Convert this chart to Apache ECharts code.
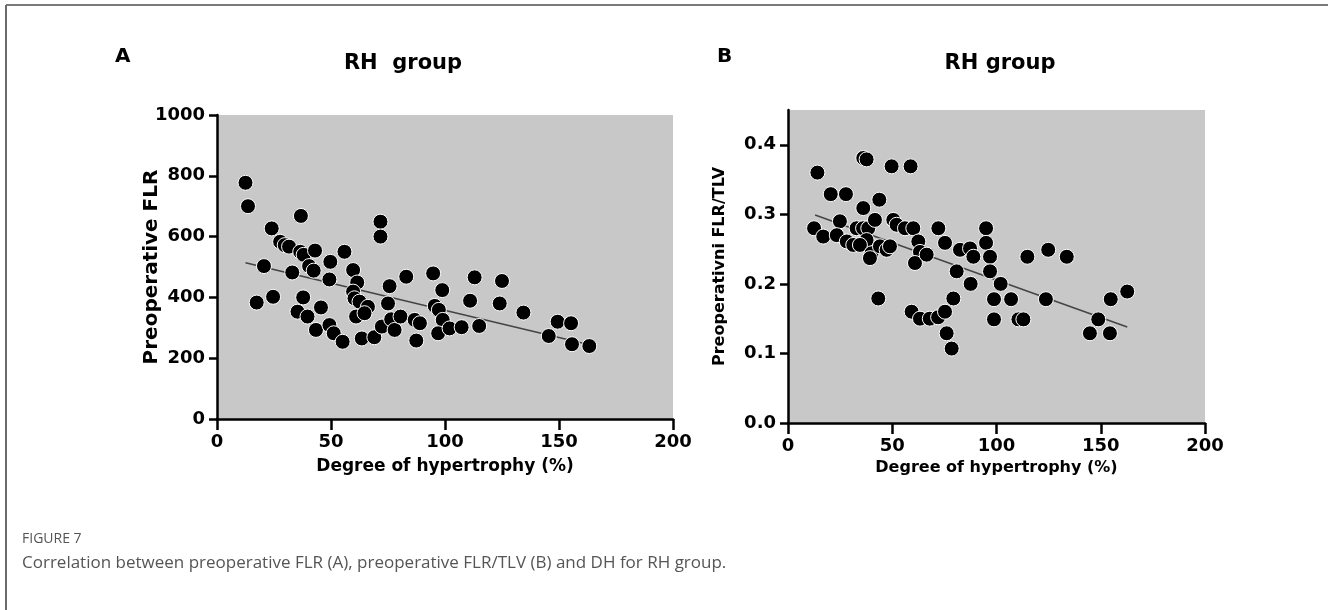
<!DOCTYPE html>
<html>
<head>
<meta charset="utf-8">
<script src="https://cdn.jsdelivr.net/npm/echarts@6/dist/echarts.min.js"></script>
<style>
  html, body { margin: 0; padding: 0; background: #fff; }
  #chart { width: 1328px; height: 610px; }
</style>
</head>
<body>
<div id="chart"></div>
<script>
// panel A: degree of hypertrophy (%) vs preoperative FLR
const dhA = [12.5, 13.6, 17.4, 20.6, 24.6, 24, 27.7, 29.7, 31.6, 33, 36.8, 36.5, 38, 37.8, 35.3, 39.7, 43, 40.4, 42.4, 43.4,
  45.6, 49.7, 49.3, 49.3, 51.2, 55.1, 55.9, 59.7, 61.5, 59.7, 60.3, 62.5, 61, 66.2, 64.7, 63.5, 69, 71.7, 71.7, 75.7,
  75, 72.3, 76.4, 77.9, 80.5, 83, 86.7, 87.4, 89, 94.8, 98.8, 95.5, 97.3, 99, 97, 102, 107.3, 113, 111, 115,
  125, 124, 134.4, 145.5, 149.4, 155.3, 155.7, 163.3];
const flrA = [777, 700, 383, 503, 402, 627, 583, 572, 567, 482, 668, 550, 540, 400, 353, 337, 554, 503, 488, 293,
  367, 517, 459, 309, 282, 254, 550, 490, 449, 419, 397, 386, 337, 369, 348, 265, 269, 649, 600, 437,
  380, 304, 328, 293, 337, 468, 326, 258, 315, 479, 424, 372, 359, 326, 282, 298, 302, 466, 389, 306,
  454, 380, 350, 273, 320, 315, 246, 240];
const fitAx = [12.5, 163.3];
const fitAy = [514, 244];

// panel B: degree of hypertrophy (%) vs preoperative FLR/TLV
const dhB = [12.5, 14.1, 16.9, 20.5, 27.8, 24.9, 23.4, 28.2, 31.3, 32.9, 36.1, 37.7, 36.1, 43.8, 36, 38.5, 41.7, 37.7, 34.5, 40.1,
  39.3, 44.1, 47.3, 43.3, 49.7, 58.8, 50.5, 52.1, 56.1, 60.1, 48.9, 62.5, 63.3, 60.9, 66.5, 59.3, 63.3, 68, 72, 75.3,
  76.1, 78.5, 72.1, 75.3, 79.3, 82.5, 87.3, 88.9, 80.9, 87.6, 95, 95, 96.9, 96.9, 102, 98.8, 107, 98.8, 110.5, 112.9,
  114.8, 124.8, 133.7, 123.7, 144.8, 148.8, 154.4, 154.8, 162.7];
const ratioB = [0.28, 0.36, 0.268, 0.329, 0.329, 0.29, 0.27, 0.261, 0.256, 0.28, 0.381, 0.379, 0.309, 0.321, 0.28, 0.28, 0.292, 0.263, 0.256, 0.244,
  0.237, 0.254, 0.249, 0.179, 0.369, 0.369, 0.292, 0.285, 0.28, 0.28, 0.254, 0.261, 0.246, 0.23, 0.242, 0.16, 0.15, 0.15, 0.152, 0.16,
  0.129, 0.107, 0.28, 0.259, 0.179, 0.249, 0.251, 0.239, 0.218, 0.2, 0.28, 0.259, 0.239, 0.218, 0.2, 0.178, 0.178, 0.149, 0.149, 0.149,
  0.239, 0.249, 0.239, 0.178, 0.129, 0.149, 0.129, 0.178, 0.189];
const fitBx = [13, 162.7];
const fitBy = [0.299, 0.138];

const yTicksB = [0, 0.1, 0.2, 0.3, 0.4];

const zip = (a, b) => a.map((v, i) => [v, b[i]]);

const font = 'DejaVu Sans';
const black = '#000';

function xAxisFor(idx, nameSize, gap) {
  return {
    gridIndex: idx, type: 'value', min: 0, max: 200, interval: 50,
    name: 'Degree of hypertrophy (%)', nameLocation: 'middle', nameGap: gap, nameMoveOverlap: false,
    nameTextStyle: { fontFamily: font, fontWeight: 'bold', fontSize: nameSize, color: black },
    axisLine: { show: true, lineStyle: { color: black, width: 2.5 } },
    axisTick: { show: true, length: 11, lineStyle: { color: black, width: 2.5 } },
    axisLabel: { fontFamily: font, fontWeight: 'bold', fontSize: 18, color: black, margin: 14 },
    splitLine: { show: false }
  };
}

const dotStyle = { color: black, opacity: 1, borderColor: '#fff', borderWidth: 1 };

const chart = echarts.init(document.getElementById('chart'));
chart.setOption({
  animation: false,
  backgroundColor: '#fff',
  title: [
    { text: 'A', left: 110, top: 42, textStyle: { fontFamily: font, fontWeight: 'bold', fontSize: 20, color: black } },
    { text: 'RH  group', left: 398, top: 48, textAlign: 'center', textStyle: { fontFamily: font, fontWeight: 'bold', fontSize: 21, color: black } },
    { text: 'B', left: 712, top: 42, textStyle: { fontFamily: font, fontWeight: 'bold', fontSize: 20, color: black } },
    { text: 'RH group', left: 995, top: 48, textAlign: 'center', textStyle: { fontFamily: font, fontWeight: 'bold', fontSize: 21, color: black } }
  ],
  grid: [
    { left: 217, top: 115, width: 456, height: 304, containLabel: false, outerBoundsMode: 'none',
      show: true, backgroundColor: '#c8c8c8', borderWidth: 0 },
    { left: 788, top: 110, width: 417, height: 313, containLabel: false, outerBoundsMode: 'none',
      show: true, backgroundColor: '#c8c8c8', borderWidth: 0 }
  ],
  xAxis: [xAxisFor(0, 17, 39), xAxisFor(1, 16, 37)],
  yAxis: [
    {
      gridIndex: 0, type: 'value', min: 0, max: 1000, interval: 200,
      name: 'Preoperative FLR', nameLocation: 'middle', nameGap: 55, nameRotate: 90, nameMoveOverlap: false,
      nameTextStyle: { fontFamily: font, fontWeight: 'bold', fontSize: 20, color: black },
      axisLine: { show: true, lineStyle: { color: black, width: 2.5 } },
      axisTick: { show: true, length: 8, lineStyle: { color: black, width: 2.5 } },
      axisLabel: { fontFamily: font, fontWeight: 'bold', fontSize: 18, color: black, margin: 12,
        formatter: v => String(v) },
      splitLine: { show: false }
    },
    {
      gridIndex: 1, type: 'value', min: 0, max: 0.45,
      name: 'Preoperativni FLR/TLV', nameLocation: 'middle', nameGap: 60, nameRotate: 90, nameMoveOverlap: false,
      nameTextStyle: { fontFamily: font, fontWeight: 'bold', fontSize: 16, color: black },
      axisLine: { show: true, lineStyle: { color: black, width: 2.5 } },
      axisTick: { show: true, length: 8, customValues: yTicksB, lineStyle: { color: black, width: 2.5 } },
      axisLabel: { fontFamily: font, fontWeight: 'bold', fontSize: 18, color: black, margin: 12,
        customValues: yTicksB, formatter: v => v.toFixed(1) },
      splitLine: { show: false }
    }
  ],
  series: [
    { type: 'scatter', xAxisIndex: 0, yAxisIndex: 0, symbolSize: 15, itemStyle: dotStyle, data: zip(dhA, flrA), z: 3 },
    { type: 'line', xAxisIndex: 0, yAxisIndex: 0, showSymbol: false, symbol: 'none',
      lineStyle: { color: '#444', width: 1.5 }, data: zip(fitAx, fitAy), z: 2 },
    { type: 'scatter', xAxisIndex: 1, yAxisIndex: 1, symbolSize: 15, itemStyle: dotStyle, data: zip(dhB, ratioB), z: 3 },
    { type: 'line', xAxisIndex: 1, yAxisIndex: 1, showSymbol: false, symbol: 'none',
      lineStyle: { color: '#444', width: 1.5 }, data: zip(fitBx, fitBy), z: 2 }
  ],
  graphic: [
    { type: 'line', shape: { x1: 6, y1: 5, x2: 1328, y2: 5 }, style: { stroke: '#7a7a7a', lineWidth: 2 } },
    { type: 'line', shape: { x1: 6, y1: 5, x2: 6, y2: 610 }, style: { stroke: '#6a6a6a', lineWidth: 2 } },
    { type: 'text', left: 22, top: 532, style: { text: 'FIGURE 7', fontFamily: 'Open Sans', fontSize: 14, fill: '#555' } },
    { type: 'text', left: 22, top: 555, style: { text: 'Correlation between preoperative FLR (A), preoperative FLR/TLV (B) and DH for RH group.',
      fontFamily: 'Open Sans', fontSize: 17, fill: '#555' } }
  ]
});
</script>
</body>
</html>
